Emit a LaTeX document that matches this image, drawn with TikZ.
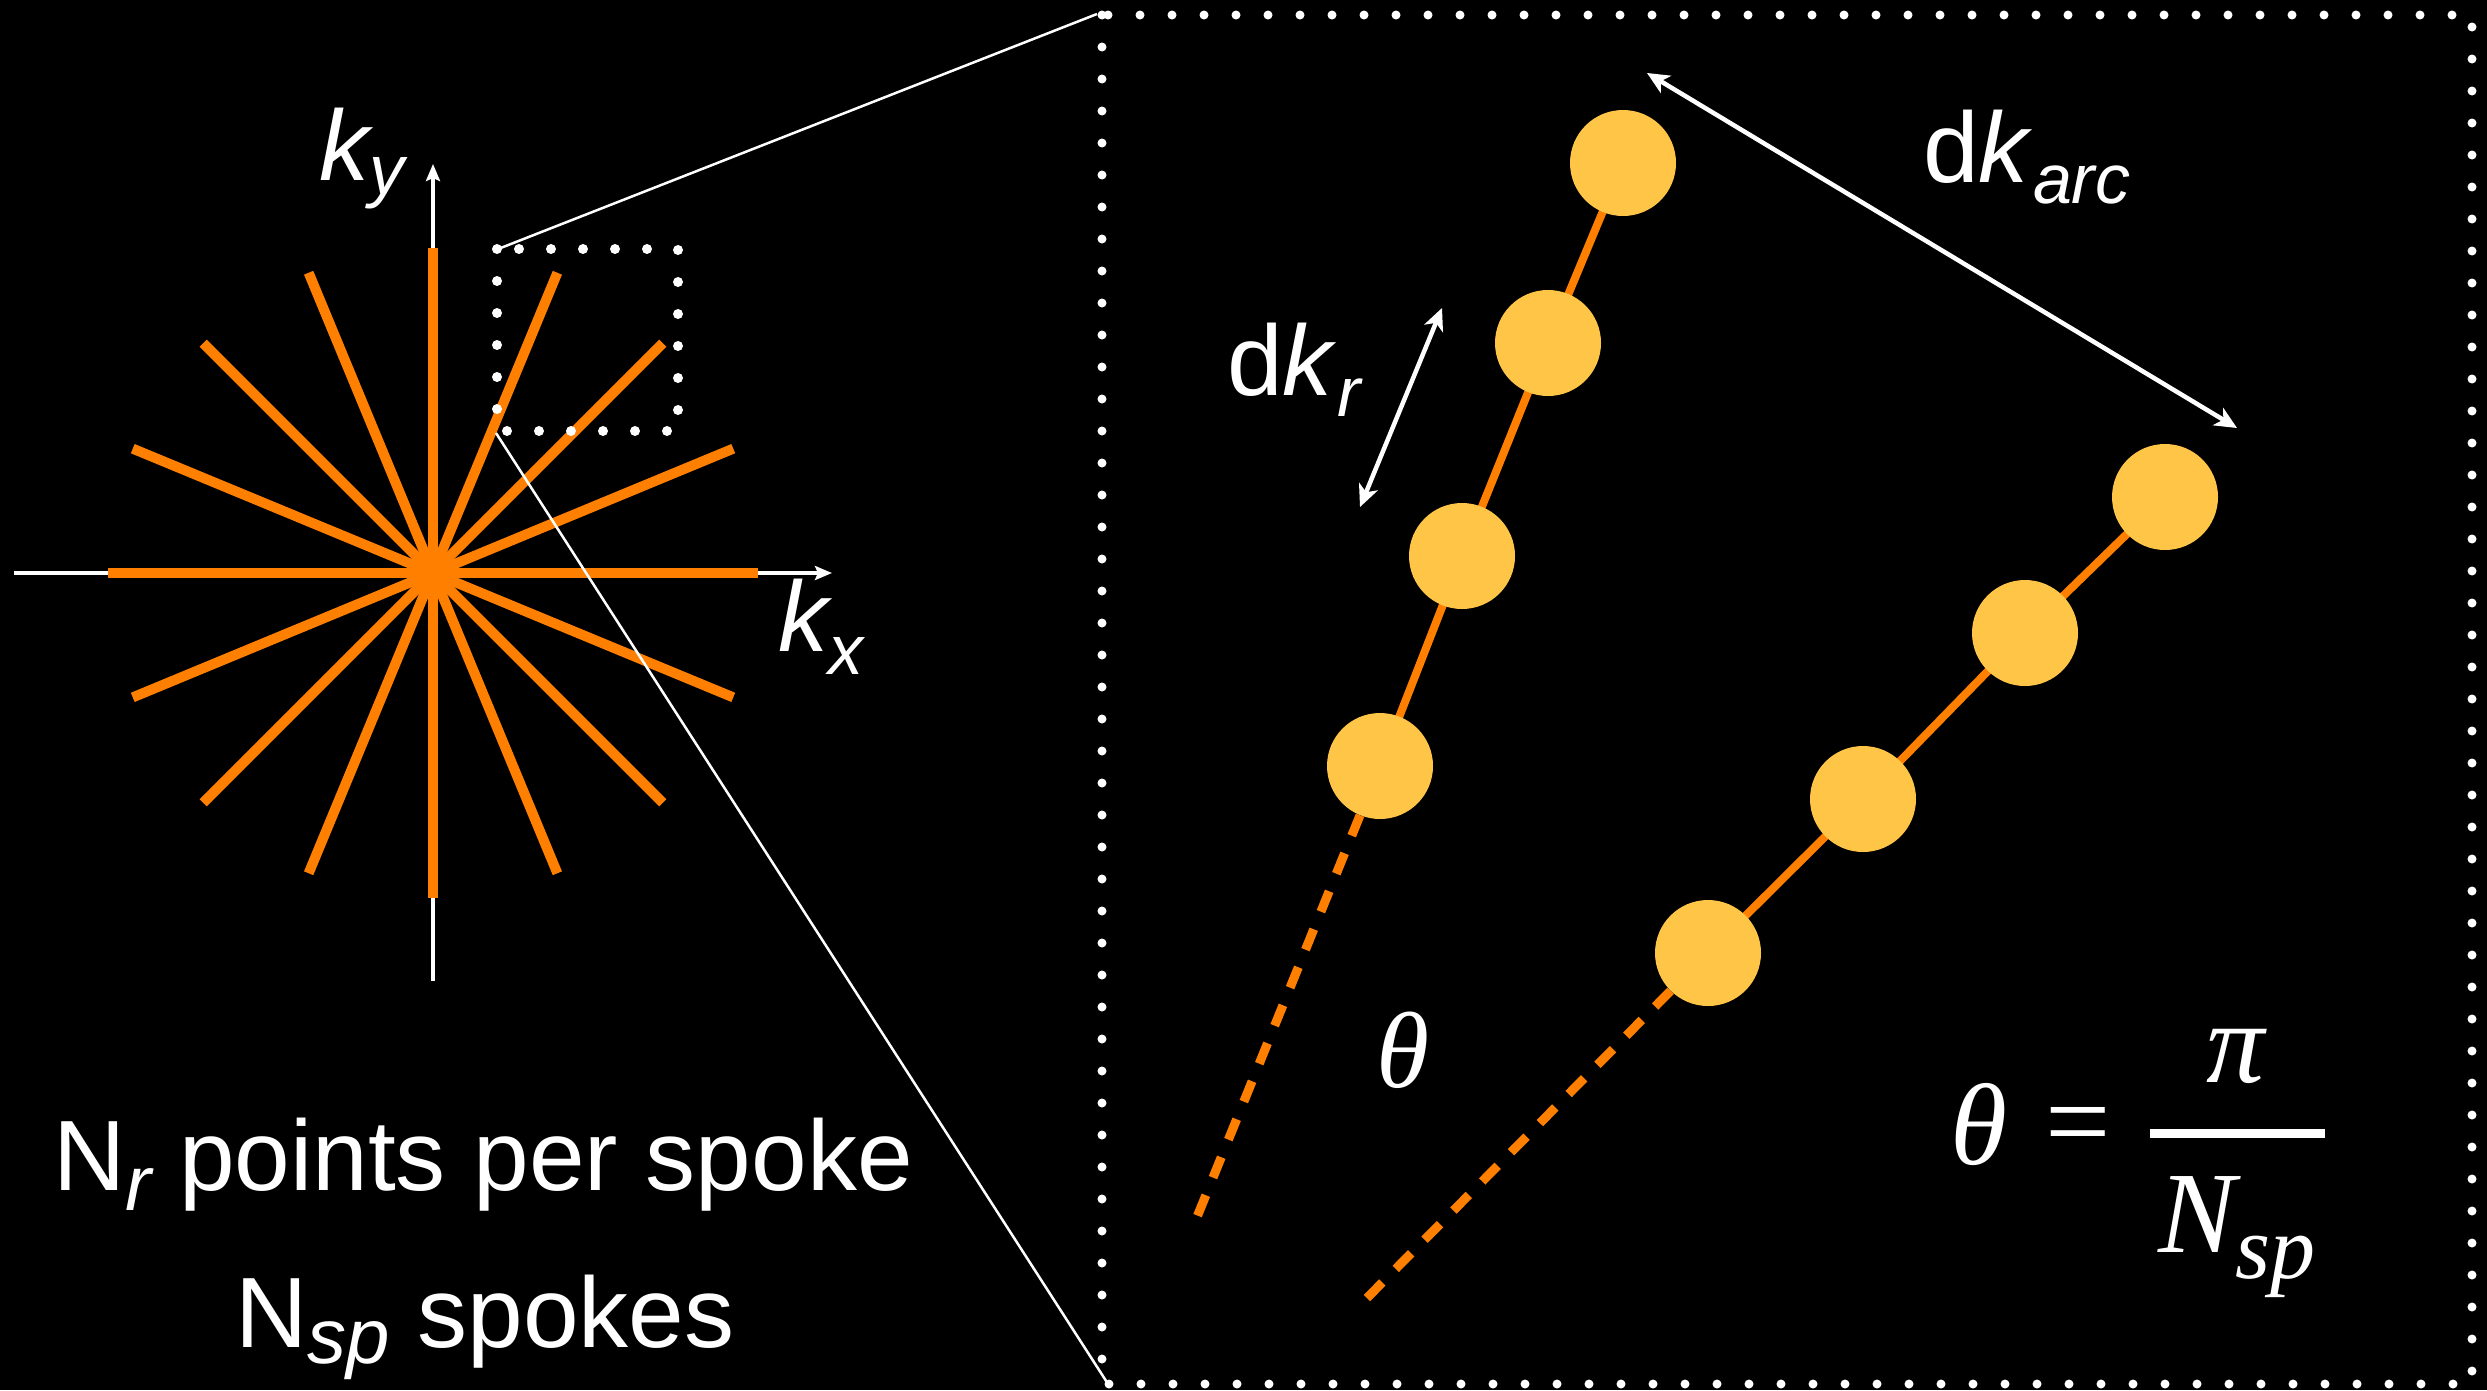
\documentclass[tikz,border=0pt]{standalone}
\usepackage{fontspec}
\setmainfont{Liberation Sans}
\newfontfamily\tnr{Liberation Serif}
\usetikzlibrary{arrows.meta}
\pgfdeclarelayer{bg}
\pgfdeclarelayer{under}
\pgfsetlayers{bg,under,main}
\definecolor{spokeorange}{HTML}{FF7F00}
\definecolor{dotyellow}{HTML}{FFC547}
\newcommand\lsub[3]{\raisebox{-#1pt}{\fontsize{#2}{#2}\selectfont\itshape #3}}
\begin{document}
\begin{tikzpicture}[x=1pt,y=-1pt,
  spoke/.style={spokeorange,line width=10pt},
  axis/.style={white,line width=4pt,-{Stealth[length=17pt,width=14pt,inset=3pt]}},
  sample/.style={circle,fill=dotyellow,minimum size=106pt,inner sep=0pt},
  radial/.style={spokeorange,line width=8pt},
  radialext/.style={spokeorange,line width=9pt,dash pattern=on 22pt off 19pt},
  measure/.style={white,line width=4.5pt,{Stealth[length=22pt,width=20pt,inset=6pt]}-{Stealth[length=22pt,width=20pt,inset=6pt]}},
  zoomline/.style={white,line width=2.5pt},
  dotframe/.style={white,line cap=round,dash pattern=on 0pt off 32pt},
  lbl/.style={white,inner sep=0pt,font=\fontsize{100}{120}\selectfont},
  mathlbl/.style={white,inner sep=0pt,font=\fontsize{116}{130}\selectfont\tnr\itshape}
]
\useasboundingbox (0,0) rectangle (2487,1390);
\begin{pgfonlayer}{bg}
  \fill[black] (0,0) rectangle (2487,1390);
\end{pgfonlayer}

% axes
\coordinate (O) at (433,573);
\coordinate (xs) at (14,573);
\coordinate (xe) at (832,573);
\coordinate (ys) at (433,981);
\coordinate (ye) at (433,164);
\draw[axis] (xs) -- (xe);
\draw[axis] (ys) -- (ye);

% starburst
\foreach \a in {0,22.5,...,157.5}
  \draw[spoke,shift={(O)}] (\a:325) -- (\a+180:325);
\fill[spokeorange] (O) circle (9);

% labels of axes
\node[lbl,anchor=base west] (ky) at (319,180) {\itshape k\lsub{14}{70}{y}};
\node[lbl,anchor=base west] (kx) at (778,651) {\itshape k\lsub{23}{70}{x}};

% zoom frames
\draw[dotframe,line width=10pt] (497,249) rectangle (678,431);
\draw[dotframe,line width=9pt] (1102,15) rectangle (2472,1384);
\coordinate (s1) at (493,251);
\coordinate (s2) at (496,433);
\coordinate (btl) at (1097,14);
\coordinate (bbl) at (1110,1387);
\draw[zoomline] (s1) -- (btl);
\draw[zoomline] (s2) -- (bbl);

% samples
\node[sample] (a1) at (1623,163) {};
\node[sample] (a2) at (1548,343) {};
\node[sample] (a3) at (1462,556) {};
\node[sample] (a4) at (1380,766) {};
\node[sample] (b1) at (2165,497) {};
\node[sample] (b2) at (2025,633) {};
\node[sample] (b3) at (1863,799) {};
\node[sample] (b4) at (1708,953) {};
\coordinate (aend) at (1197,1217);
\coordinate (bend) at (1362,1303);
\begin{pgfonlayer}{under}
  \draw[radial] (a1.center) -- (a2.center) -- (a3.center) -- (a4.center);
  \draw[radial] (b1.center) -- (b2.center) -- (b3.center) -- (b4.center);
  \draw[radialext] (a4) -- (aend);
  \draw[radialext] (b4) -- (bend);
\end{pgfonlayer}

% measures
\coordinate (r1) at (1360,507);
\coordinate (r2) at (1442,308);
\draw[measure] (r1) -- (r2);
\coordinate (c1) at (1647,73);
\coordinate (c2) at (2237,428);
\draw[measure] (c1) -- (c2);
\node[lbl,anchor=base west] (dkr) at (1227,395) {d\textit{k}\lsub{21}{70}{r}};
\node[lbl,anchor=base west] (dkarc) at (1923,182) {d\textit{k}\lsub{21}{70}{arc}};

% theta
\node[mathlbl,font=\fontsize{108}{120}\selectfont\tnr\itshape] (th) at (1403,1050) {θ};
\node[mathlbl] (th2) at (1979,1124) {θ};
\node[mathlbl,font=\fontsize{116}{130}\selectfont\tnr] (eq) at (2078,1134) {=};
\coordinate (f1) at (2150,1133.5);
\coordinate (f2) at (2325,1133.5);
\draw[white,line width=9pt] (f1) -- (f2);
\node[mathlbl] (pi) at (2236,1056) {π};
\node[mathlbl,anchor=base west] (nsp) at (2158,1252) {N\raisebox{-26pt}{\fontsize{90}{90}\selectfont sp}};

% bottom text
\node[lbl,anchor=base west] (l1) at (53,1190) {N\lsub{20}{78}{r} points per spoke};
\node[lbl,anchor=base west] (l2) at (235,1347) {N\lsub{16}{78}{sp} spokes};
\end{tikzpicture}
\end{document}
